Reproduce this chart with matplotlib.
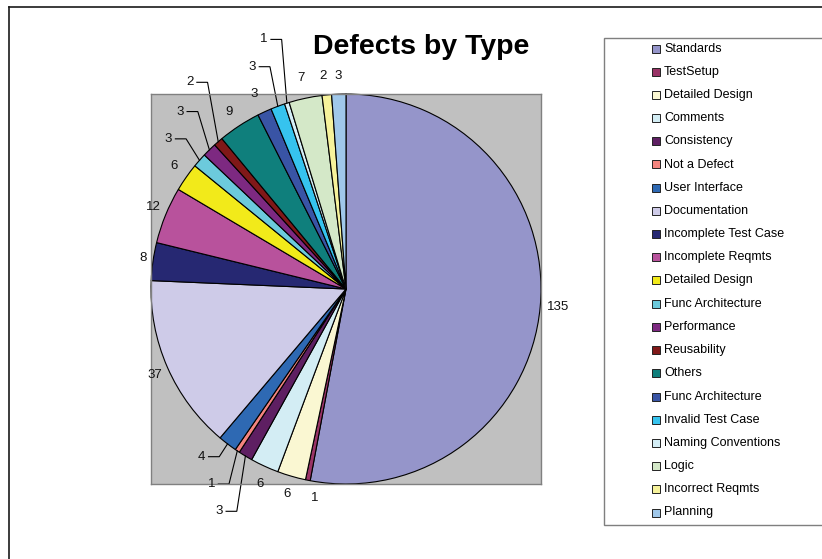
import matplotlib
matplotlib.use("Agg")
import matplotlib.pyplot as plt
from matplotlib.patches import Rectangle
from matplotlib.lines import Line2D
import numpy as np

plt.rcParams['font.family'] = ['Liberation Sans', 'DejaVu Sans']

# Defect categories, counts and slice colours (clockwise from 12 o'clock)
categories = ["Standards", "TestSetup", "Detailed Design", "Comments", "Consistency",
              "Not a Defect", "User Interface", "Documentation", "Incomplete Test Case",
              "Incomplete Reqmts", "Detailed Design", "Func Architecture", "Performance",
              "Reusability", "Others", "Func Architecture", "Invalid Test Case",
              "Naming Conventions", "Logic", "Incorrect Reqmts", "Planning"]
counts = [135, 1, 6, 6, 3, 1, 4, 37, 8, 12, 6, 3, 3, 2, 9, 3, 3, 1, 7, 2, 3]
colors = ["#9595CA", "#993366", "#FAF7D2", "#D3EDF4", "#5E1F62", "#F4857F", "#2E69B3",
          "#CECBE8", "#262872", "#B8529C", "#F2EA1A", "#6CCADC", "#7D2981", "#801818",
          "#0F7F7C", "#3954A5", "#36C3EE", "#D4EEF6", "#D4E8C8", "#F6F29B", "#A0C8EA"]

# Label anchor points in pie-radius units, and which labels get a leader line
label_pos = [(1.09, -0.09), (-0.16, -1.07), (-0.30, -1.05), (-0.44, -1.00),
             (-0.65, -1.14), (-0.69, -1.00), (-0.74, -0.86), (-0.98, -0.44),
             (-1.04, 0.16), (-0.99, 0.42), (-0.88, 0.63), (-0.91, 0.77),
             (-0.85, 0.91), (-0.80, 1.06), (-0.60, 0.91), (-0.47, 1.00),
             (-0.48, 1.14), (-0.42, 1.28), (-0.23, 1.08), (-0.12, 1.09), (-0.04, 1.09)]
leader = [4, 5, 6, 11, 12, 13, 16, 17]

W, H = 822, 559
fig = plt.figure(figsize=(W / 100, H / 100), dpi=100)
fig.patch.set_facecolor("white")


def fx(x):
    return x / W


def fy(y):
    return 1 - y / H


# Outer chart border (left and top edges)
fig.add_artist(Line2D([fx(9), fx(9)], [fy(7), fy(H + 5)], color="#1a1a1a", lw=1.2))
fig.add_artist(Line2D([fx(9), fx(W + 5)], [fy(7), fy(7)], color="#1a1a1a", lw=1.2))

# Plot area with pie
ax = fig.add_axes([fx(151), fy(484), 390 / W, 390 / H])
wedges, _ = ax.pie(counts, colors=colors, startangle=90, counterclock=False, radius=1,
                   wedgeprops=dict(edgecolor="black", linewidth=0.8))
ax.set_frame_on(True)
ax.set_facecolor("#C0C0C0")
ax.set_xlim(-1, 1)
ax.set_ylim(-1, 1)
ax.set_aspect("equal")
ax.set_xticks([])
ax.set_yticks([])
for s in ax.spines.values():
    s.set_color("#808080")
    s.set_linewidth(1.0)

# Value labels
for i, (w, v) in enumerate(zip(wedges, counts)):
    lx, ly = label_pos[i]
    ax.text(lx, ly, str(v), ha="center", va="center", fontsize=9.5, color="#111111",
            clip_on=False)
    if i in leader:
        mid = np.deg2rad((w.theta1 + w.theta2) / 2)
        ex, ey = np.cos(mid), np.sin(mid)
        ax.plot([lx + 0.035, lx + 0.09, ex], [ly, ly, ey], color="black", lw=0.8,
                clip_on=False, solid_joinstyle="miter")

# Title
fig.text(fx(421.5), fy(54), "Defects by Type", ha="center", va="baseline",
         fontsize=20.5, fontweight="bold")

# Legend box and entries
fig.add_artist(Rectangle((fx(604), fy(525)), fx(W + 20) - fx(604), fy(38) - fy(525),
                         transform=fig.transFigure, facecolor="white",
                         edgecolor="#7F7F7F", lw=1.0, zorder=0))
row0, step = 48.5, 23.2
for i, (name, c) in enumerate(zip(categories, colors)):
    yc = row0 + i * step
    fig.add_artist(Rectangle((fx(652), fy(yc + 4)), 8 / W, 8 / H,
                             transform=fig.transFigure, facecolor=c,
                             edgecolor="#222222", lw=0.7))
    fig.text(fx(664), fy(yc), name, ha="left", va="center", fontsize=9, color="black")

fig.savefig("out.png", dpi=100)
